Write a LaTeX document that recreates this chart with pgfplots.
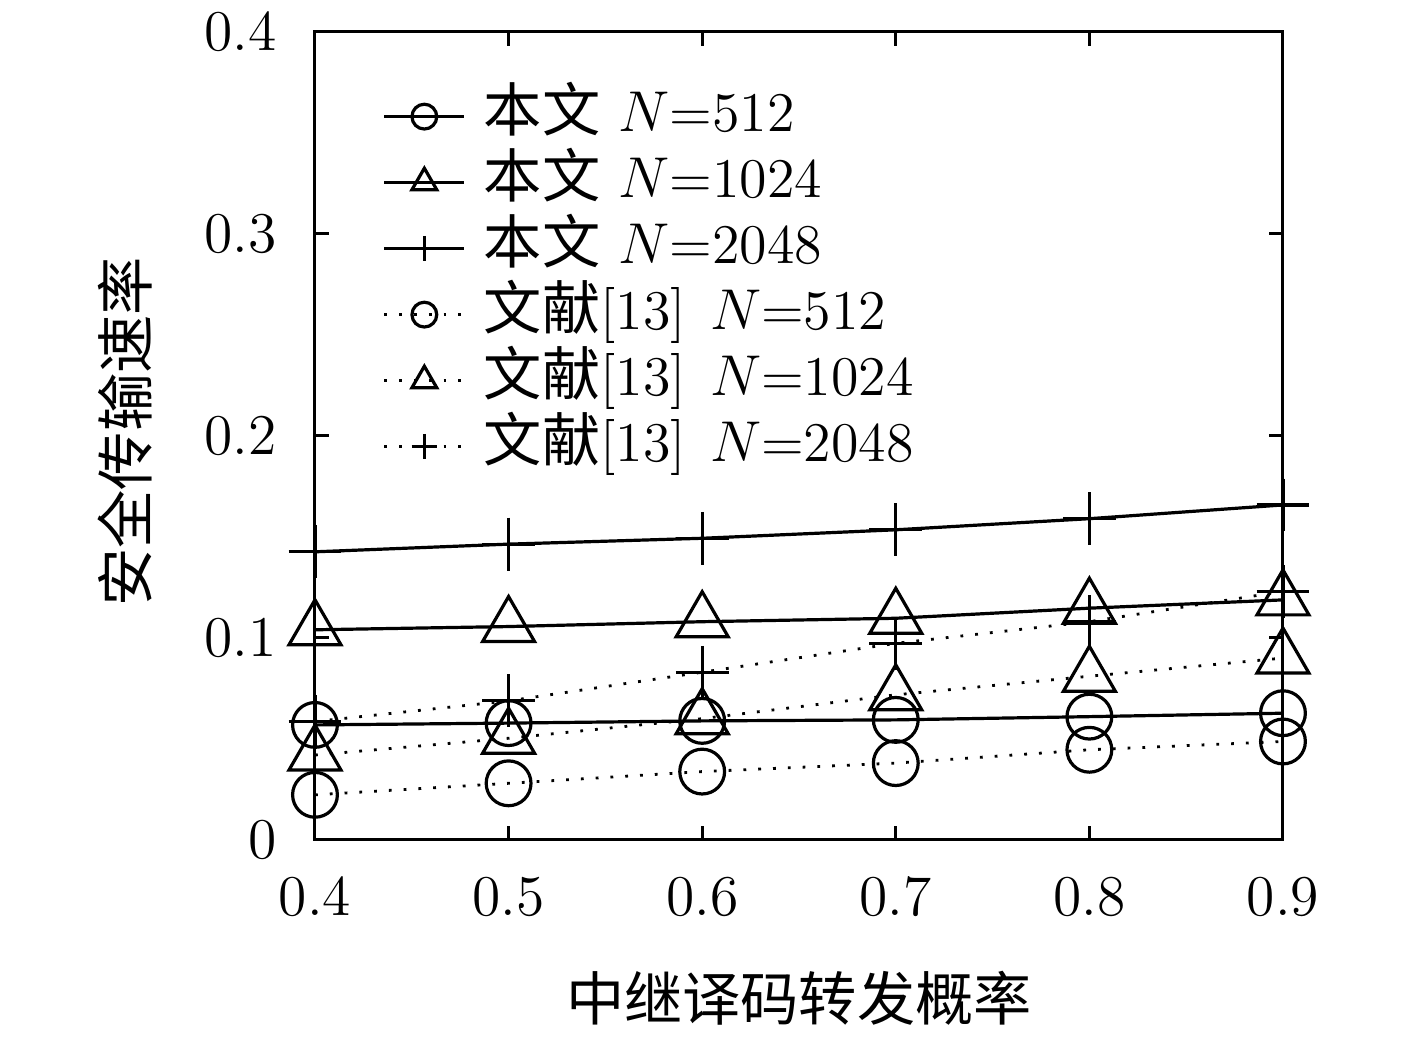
\documentclass[border=0pt]{standalone}
\usepackage{pgfplots}
\pgfplotsset{compat=1.18}
\usepackage{fontspec}
\newfontfamily\cjk[Scale=1.04]{Noto Sans CJK SC}
\newcommand\fs{\fontsize{14pt}{16.5pt}\selectfont}
\pgfplotsset{
  legc/.style={legend image code/.code={\draw[mark repeat=2,mark phase=2,##1,mark size=#1] plot coordinates {(0pt,0pt)(10pt,0pt)(20pt,0pt)};}},
  sol/.style={black, solid, line width=0.8pt, mark options={solid, line width=0.8pt}},
  dot/.style={black, line width=0.7pt, dash pattern=on 0.7pt off 3pt, mark options={solid, line width=0.8pt}},
}
\begin{document}
\begin{tikzpicture}
\begin{axis}[
  scale only axis, width=242pt, height=202pt,
  xmin=0.4, xmax=0.9, ymin=0, ymax=0.4,
  xtick={0.4,0.5,0.6,0.7,0.8,0.9},
  ytick={0,0.1,0.2,0.3,0.4},
  tick align=inside, major tick length=3.5pt,
  axis line style={line width=0.75pt}, every tick/.style={black, line width=0.75pt},
  tick label style={font=\fs},
  xticklabel style={yshift=-6pt},
  yticklabel style={xshift=-6pt},
  xlabel={\cjk 中继译码转发概率},
  ylabel={\cjk 安全传输速率},
  xlabel style={font=\fs, at={(axis description cs:0.5,-0.1955)}, anchor=center},
  ylabel style={font=\fs, at={(axis description cs:-0.196,0.505)}, anchor=center, rotate=0},
  legend cell align=left,
  legend style={font=\fs, draw=none, fill=none, at={(rel axis cs:0.07,0.931)}, anchor=north west,
    inner sep=0pt, outer sep=0pt, row sep=2pt, column sep=4.5pt,
    nodes={inner sep=0pt, text height=11pt, text depth=3.5pt}},
  clip=false,
]
\addplot[sol, mark=o, mark size=5.6pt, legc=3.1pt] coordinates {
(0.4,0.0569)(0.5,0.0578)(0.6,0.0589)(0.7,0.0594)(0.8,0.0610)(0.9,0.0627)};
\addlegendentry{{\cjk 本文} $N$=512}
\addplot[sol, mark=triangle, mark size=7.5pt, legc=3.6pt] coordinates {
(0.4,0.1040)(0.5,0.1056)(0.6,0.1080)(0.7,0.1097)(0.8,0.1147)(0.9,0.1188)};
\addlegendentry{{\cjk 本文} $N$=1024}
\addplot[sol, mark=+, mark size=6.6pt, legc=3.2pt] coordinates {
(0.4,0.1426)(0.5,0.1464)(0.6,0.1493)(0.7,0.1535)(0.8,0.1590)(0.9,0.1658)};
\addlegendentry{{\cjk 本文} $N$=2048}
\addplot[dot, mark=o, mark size=5.6pt, legc=3.1pt] coordinates {
(0.4,0.0223)(0.5,0.0280)(0.6,0.0338)(0.7,0.0380)(0.8,0.0446)(0.9,0.0487)};
\addlegendentry{{\cjk 文献}[13]\hspace{1.5pt} $N$=512}
\addplot[dot, mark=triangle, mark size=7.5pt, legc=3.6pt] coordinates {
(0.4,0.0420)(0.5,0.0503)(0.6,0.0600)(0.7,0.0718)(0.8,0.0810)(0.9,0.0900)};
\addlegendentry{{\cjk 文献}[13]\hspace{1.5pt} $N$=1024}
\addplot[dot, mark=+, mark size=6.6pt, legc=3.2pt] coordinates {
(0.4,0.0586)(0.5,0.0688)(0.6,0.0830)(0.7,0.0973)(0.8,0.1080)(0.9,0.1230)};
\addlegendentry{{\cjk 文献}[13]\hspace{1.5pt} $N$=2048}
\end{axis}
\path (-78.75pt,-48.25pt) rectangle (275.5pt,208.75pt);
\end{tikzpicture}
\end{document}
